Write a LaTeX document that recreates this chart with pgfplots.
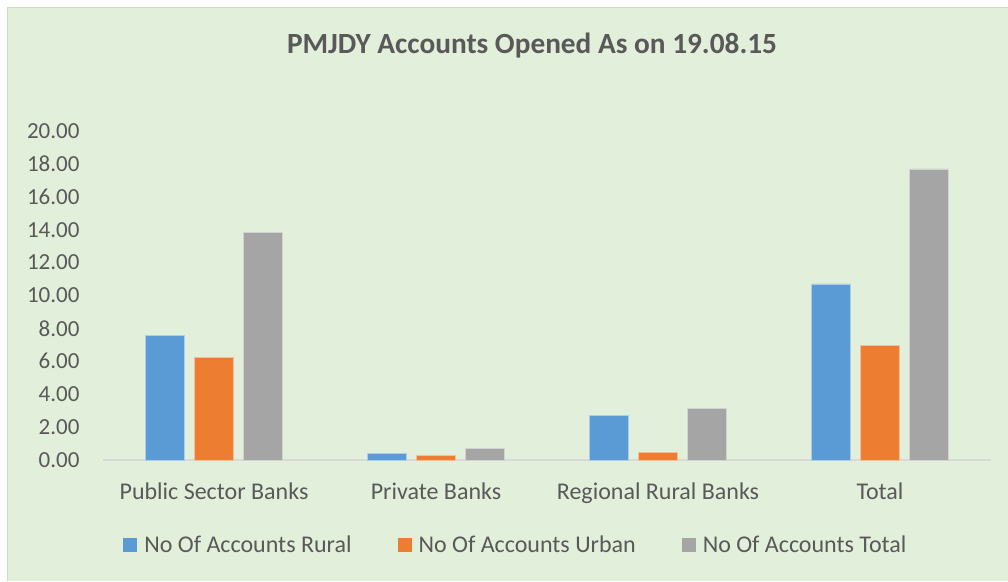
\documentclass[border=0pt]{standalone}
\usepackage{fontspec}
\setmainfont{Carlito}
\usepackage{pgfplots}
\pgfplotsset{compat=1.18}
\definecolor{bg}{HTML}{E2EFDA}
\definecolor{bord}{HTML}{C5E0B4}
\definecolor{txt}{HTML}{595959}
\definecolor{cA}{HTML}{5B9BD5}
\definecolor{cB}{HTML}{ED7D31}
\definecolor{cC}{HTML}{A5A5A5}
\begin{document}
\begin{tikzpicture}[x=1pt,y=1pt]
\useasboundingbox (0,0) rectangle (1008,581);
\fill[white] (0,0) rectangle (1008,581);
\fill[bg] (7,0) rectangle (1008,574);
\draw[bord, line width=1.2pt] (7.5,0) -- (7.5,573.5) -- (1008,573.5);
\node[text=txt, font=\bfseries\fontsize{29.3}{33}\selectfont] at (532,535.5) {PMJDY Accounts Opened As on 19.08.15};
\begin{axis}[
  at={(103pt,121pt)}, anchor=south west,
  scale only axis, width=888pt, height=329pt,
  ymin=0, ymax=20, xmin=-0.5, xmax=3.5,
  ybar=10pt, bar width=39pt,
  ytick={0,2,...,20},
  xtick=data,
  xticklabels={Public Sector Banks, Private Banks, Regional Rural Banks, Total},
  axis y line*=left,
  axis x line*=bottom,
  x axis line style={draw=black!15, line width=1.8pt, -},
  y axis line style={draw=none, -},
  major tick length=0pt,
  tick style={draw=none},
  yticklabel style={text=txt, font=\fontsize{23}{26}\selectfont, xshift=-20pt, /pgf/number format/.cd, fixed, fixed zerofill, precision=2, assume math mode=true},
  xticklabel style={text=txt, font=\fontsize{24}{26}\selectfont, yshift=-19pt},
  legend style={at={(0.465,-0.258)}, anchor=center, draw=none, fill=none, legend columns=3, font=\fontsize{24}{26}\selectfont, text=txt,
    /tikz/every odd column/.append style={column sep=5pt},
    /tikz/every even column/.append style={column sep=44pt}},
  legend image code/.code={\fill[#1, draw=none] (0pt,-7pt) rectangle (14pt,7pt);},
  clip=false,
]
\addplot[fill=cA, draw=cA!50!white, line width=0.6pt] coordinates {(0,7.58) (1,0.41) (2,2.69) (3,10.70)};
\addplot[fill=cB, draw=cB!50!white, line width=0.6pt] coordinates {(0,6.22) (1,0.29) (2,0.47) (3,6.97)};
\addplot[fill=cC, draw=cC!50!white, line width=0.6pt] coordinates {(0,13.82) (1,0.69) (2,3.16) (3,17.69)};
\legend{No Of Accounts Rural, No Of Accounts Urban, No Of Accounts Total}
\end{axis}
\end{tikzpicture}
\end{document}
